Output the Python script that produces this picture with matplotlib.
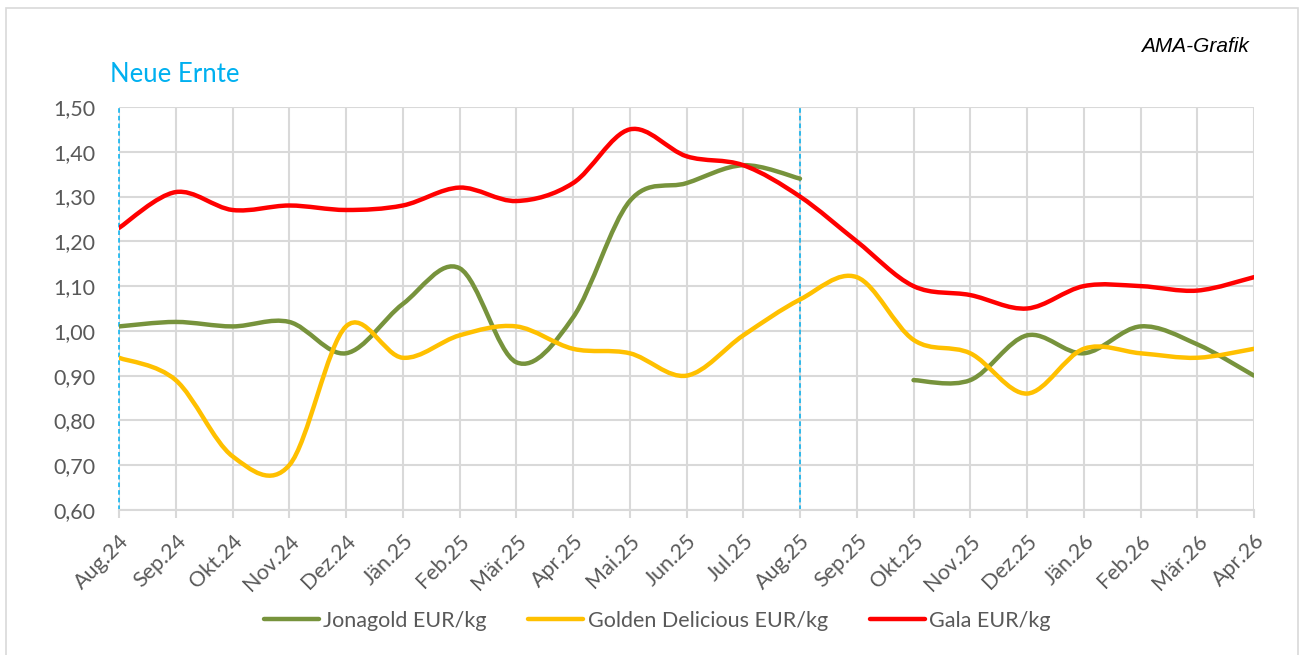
import numpy as np
import matplotlib.pyplot as plt
from matplotlib.path import Path
from matplotlib.patches import PathPatch, Rectangle
from matplotlib.lines import Line2D
from matplotlib.ticker import FuncFormatter

months = ['Aug.24', 'Sep.24', 'Okt.24', 'Nov.24', 'Dez.24', 'Jän.25', 'Feb.25', 'Mär.25',
          'Apr.25', 'Mai.25', 'Jun.25', 'Jul.25', 'Aug.25', 'Sep.25', 'Okt.25', 'Nov.25',
          'Dez.25', 'Jän.26', 'Feb.26', 'Mär.26', 'Apr.26']

jonagold = [1.01, 1.02, 1.01, 1.02, 0.95, 1.06, 1.14, 0.93, 1.03, 1.29, 1.33, 1.37, 1.34,
            np.nan, 0.89, 0.89, 0.99, 0.95, 1.01, 0.97, 0.90]
golden = [0.94, 0.89, 0.72, 0.70, 1.01, 0.94, 0.99, 1.01, 0.96, 0.95, 0.90, 0.99, 1.07,
          1.12, 0.98, 0.95, 0.86, 0.96, 0.95, 0.94, 0.96]
gala = [1.23, 1.31, 1.27, 1.28, 1.27, 1.28, 1.32, 1.29, 1.33, 1.45, 1.39, 1.37, 1.30,
        1.20, 1.10, 1.08, 1.05, 1.10, 1.10, 1.09, 1.12]

series = [('Jonagold EUR/kg', jonagold, '#77933C'),
          ('Golden Delicious EUR/kg', golden, '#FFC000'),
          ('Gala EUR/kg', gala, '#FF0000')]
new_harvest = [0, 12]

FONT = 'Lato'
GREY = '#595959'
GRID = '#D9D9D9'


def smooth_path(x, y):
    # excel-like smoothed line: cubic bezier through the points
    verts, codes = [], []
    y = np.asarray(y, dtype=float)
    ok = ~np.isnan(y)
    runs, start = [], None
    for i, v in enumerate(ok):
        if v and start is None:
            start = i
        if (not v or i == len(ok) - 1) and start is not None:
            end = i if v else i - 1
            runs.append((start, end))
            start = None
    for s, e in runs:
        px = np.asarray(x[s:e + 1], dtype=float)
        py = y[s:e + 1]
        n = len(px)
        verts.append((px[0], py[0]))
        codes.append(Path.MOVETO)
        for i in range(n - 1):
            p0 = (px[max(i - 1, 0)], py[max(i - 1, 0)])
            p1 = (px[i], py[i])
            p2 = (px[i + 1], py[i + 1])
            p3 = (px[min(i + 2, n - 1)], py[min(i + 2, n - 1)])
            c1 = (p1[0] + (p2[0] - p0[0]) / 6, p1[1] + (p2[1] - p0[1]) / 6)
            c2 = (p2[0] - (p3[0] - p1[0]) / 6, p2[1] - (p3[1] - p1[1]) / 6)
            verts += [c1, c2, p2]
            codes += [Path.CURVE4] * 3
    return Path(verts, codes)


fig = plt.figure(figsize=(13.03, 6.55), dpi=100)
ax = fig.add_axes([119 / 1303, 1 - 510 / 655, (1254 - 119) / 1303, (510 - 107) / 655])

fig.patches.append(Rectangle((6 / 1303, -0.02), 1292 / 1303, 1 - 8 / 655 + 0.02,
                             transform=fig.transFigure, fill=False, edgecolor=GRID, lw=1.2))

x = np.arange(len(months))
ax.set_xlim(0, len(months) - 1)
ax.set_ylim(0.6, 1.5)
ax.set_yticks(np.arange(0.6, 1.501, 0.1))
ax.set_xticks(x)
ax.set_xticklabels(months, rotation=45, ha='right', rotation_mode='anchor')
ax.yaxis.set_major_formatter(FuncFormatter(lambda v, p: f'{v:.2f}'.replace('.', ',')))
ax.grid(True, color=GRID, lw=1.5)
ax.set_axisbelow(True)
for s in ['top', 'right', 'left']:
    ax.spines[s].set_visible(False)
ax.spines['bottom'].set_color(GRID)
ax.spines['bottom'].set_linewidth(1.5)
ax.tick_params(axis='x', length=6, width=1.5, color=GRID, labelcolor=GREY, labelsize=15.5, pad=9)
ax.tick_params(axis='y', length=0, labelcolor=GREY, labelsize=15.5, pad=17)
for lab in ax.get_xticklabels() + ax.get_yticklabels():
    lab.set_fontfamily(FONT)

for xv in new_harvest:
    ax.axvline(xv, color='#00B0F0', lw=1.1, ls=(0, (3, 2)), zorder=2, clip_on=False)

handles = []
for name, vals, col in series:
    ax.add_patch(PathPatch(smooth_path(x, vals), facecolor='none', edgecolor=col, lw=3.2,
                           capstyle='round', joinstyle='round', zorder=3))
    handles.append(Line2D([], [], color=col, lw=3.2, solid_capstyle='round', label=name))

fig.text(110 / 1303, 1 - 75 / 655, 'Neue Ernte', color='#00B0F0', fontsize=18.5,
         family=FONT, va='center', ha='left')
fig.text(1249 / 1303, 1 - 47 / 655, 'AMA-Grafik', style='italic', fontsize=15,
         family='Liberation Sans', va='center', ha='right', color='black')

fig.legend(handles=handles, loc='center', bbox_to_anchor=(657 / 1303, 1 - 621 / 655),
           ncol=3, frameon=False, handlelength=2.55, columnspacing=1.95, handletextpad=0.2,
           prop={'family': FONT, 'size': 15.5}, labelcolor=GREY)

fig.savefig('out.png', dpi=100)
